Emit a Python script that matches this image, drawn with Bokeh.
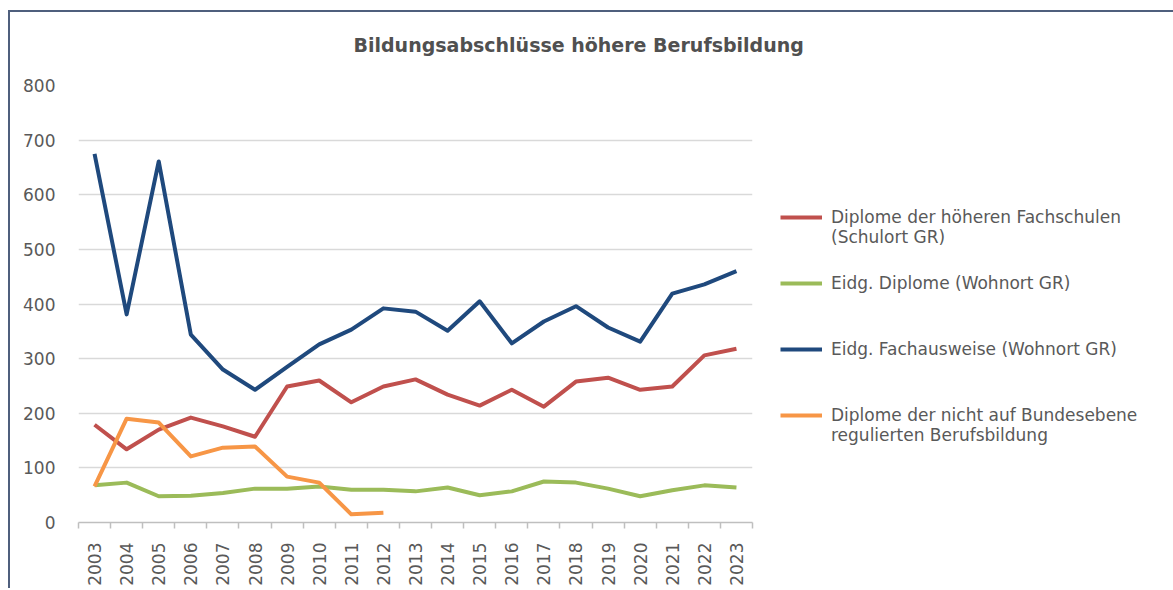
from bokeh.plotting import figure
from bokeh.models import Legend, LegendItem, FixedTicker, Range1d, Title
from bokeh.embed import file_html
from bokeh.resources import INLINE

years = list(range(2003, 2024))
fachschulen = [179, 134, 170, 192, 176, 157, 249, 260, 220, 249, 262, 234, 214, 243, 212, 258, 265, 243, 249, 306, 318]
eidg_diplome = [68, 73, 48, 49, 54, 62, 62, 66, 60, 60, 57, 64, 50, 57, 75, 73, 62, 48, 59, 68, 64]
fachausweise = [675, 381, 661, 344, 280, 243, 285, 326, 353, 392, 386, 351, 405, 328, 368, 396, 357, 331, 419, 436, 460]
nicht_bund = [66, 190, 183, 121, 137, 139, 84, 73, 15, 18]
y_ticks = [0, 100, 200, 300, 400, 500, 600, 700, 800]

labels = [
    " \nDiplome der höheren Fachschulen\n(Schulort GR)",
    "Eidg. Diplome (Wohnort GR)",
    "Eidg. Fachausweise (Wohnort GR)",
    " \nDiplome der nicht auf Bundesebene\nregulierten Berufsbildung",
]
colors = ["#c0504d", "#9bbb59", "#1f497d", "#f79646"]

FONT = "DejaVu Sans"
TXT = "#595959"

p = figure(frame_width=674, frame_height=437, output_backend="svg", toolbar_location=None,
           title=None,
           x_range=Range1d(years[0] - 0.5, years[-1] + 0.5), y_range=Range1d(0, 800),
           min_border_left=68, min_border_right=420, min_border_top=73, min_border_bottom=66)
p.styles = {"border-top": "2px solid #4f5f7d", "border-left": "2px solid #4f5f7d",
            "position": "relative", "top": "10px", "left": "8px"}
p.outline_line_color = None
p.background_fill_color = "white"
p.border_fill_color = "white"

spacer = Title(text=" ", text_font=FONT, text_font_size="11px")
p.add_layout(spacer, "above")
title = Title(text="Bildungsabschlüsse höhere Berufsbildung", align="left", offset=275,
              text_font=FONT, text_font_size="19px", text_font_style="bold", text_color="#505050")
p.add_layout(title, "above")

# y axis
p.yaxis.ticker = FixedTicker(ticks=y_ticks)
p.yaxis.axis_line_color = None
p.yaxis.major_tick_line_color = None
p.yaxis.minor_tick_line_color = None
p.yaxis.major_label_standoff = 17
p.yaxis.major_label_text_font = FONT
p.yaxis.major_label_text_font_size = "17px"
p.yaxis.major_label_text_color = TXT
p.ygrid.ticker = FixedTicker(ticks=y_ticks)
p.ygrid.grid_line_color = "#d9d9d9"
p.ygrid.grid_line_width = 1.5
p.xgrid.grid_line_color = None

# x axis: labels at years, ticks between categories
p.xaxis.ticker = FixedTicker(ticks=years, minor_ticks=[y - 0.5 for y in years] + [years[-1] + 0.5])
p.xaxis.axis_line_color = "#bfbfbf"
p.xaxis.axis_line_width = 1.5
p.xaxis.major_tick_line_color = None
p.xaxis.major_tick_out = 0
p.xaxis.major_tick_in = 0
p.xaxis.minor_tick_line_color = "#bfbfbf"
p.xaxis.minor_tick_line_width = 1.5
p.xaxis.minor_tick_out = 6
p.xaxis.minor_tick_in = 0
p.xaxis.major_label_orientation = 3.14159265 / 2
p.xaxis.major_label_standoff = 14
p.xaxis.major_label_text_font = FONT
p.xaxis.major_label_text_font_size = "17px"
p.xaxis.major_label_text_color = TXT

series = [fachschulen, eidg_diplome, fachausweise, nicht_bund]
items = []
for vals, col, lab in zip(series, colors, labels):
    r = p.line(years[:len(vals)], vals, line_color=col, line_width=4, line_join="round")
    items.append(LegendItem(label=lab, renderers=[r]))

leg = Legend(items=items, location=(28, 74), orientation="vertical",
             padding=0, margin=0, spacing=0, border_line_color=None, background_fill_alpha=0,
             glyph_width=42, glyph_height=20, label_standoff=9, label_height=66,
             label_text_font=FONT, label_text_font_size="17px", label_text_color=TXT,
             label_text_line_height=1.45)
p.add_layout(leg, "right")

open("out.html", "w").write(file_html(p, INLINE))
